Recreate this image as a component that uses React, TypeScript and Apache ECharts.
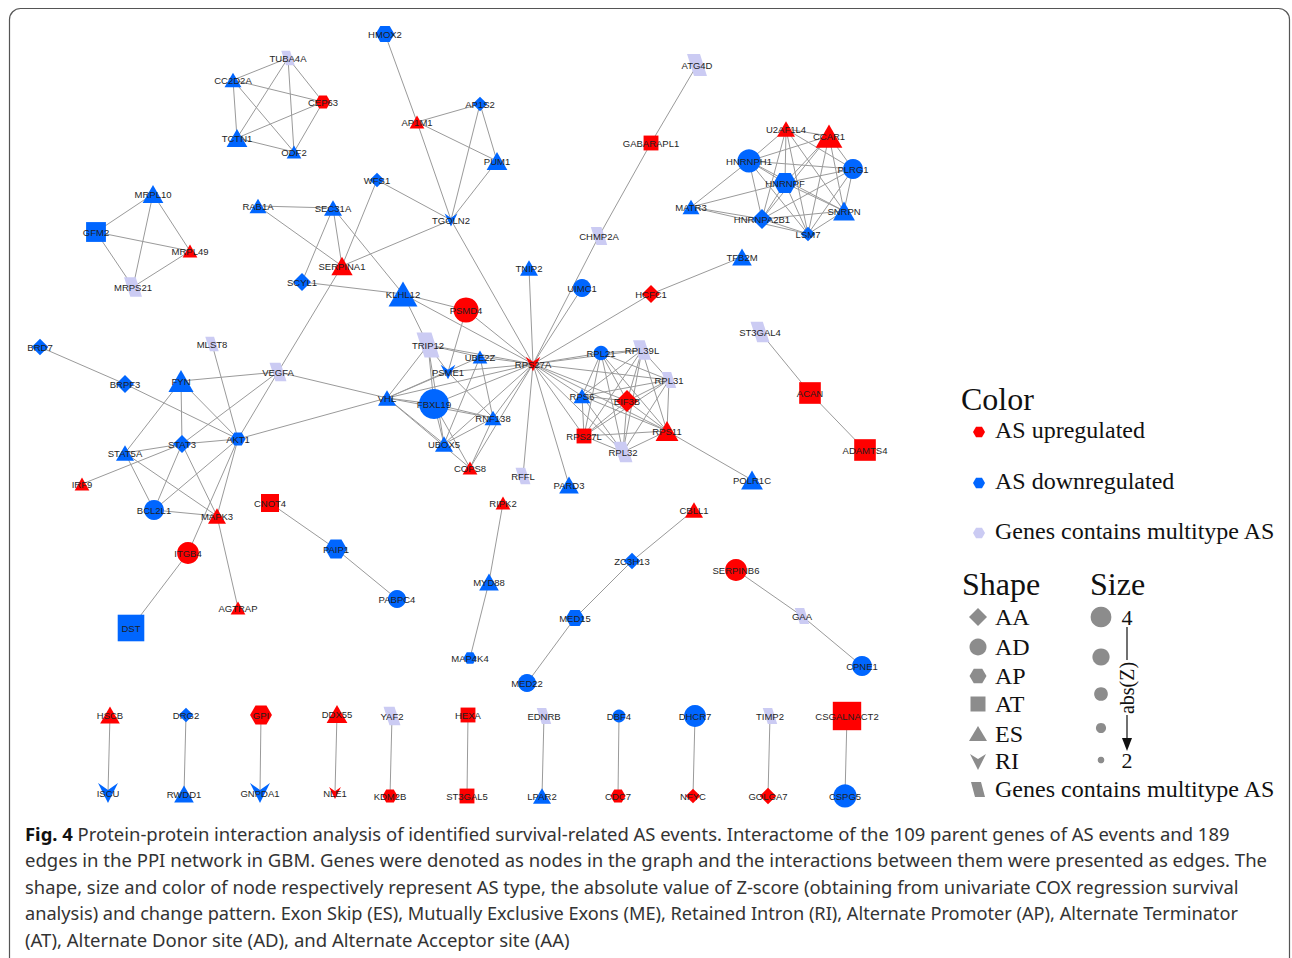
import { useEffect, useRef } from "react";
import * as echarts from "echarts";

// [gene, layoutX, layoutY, AS type, change pattern, abs(Z)]
type Gene = [string, number, number, string, string, number];

const genes: Gene[] = [
  ["TUBA4A", 288, 58, "ME", "multi", 2.4],
  ["CC2D2A", 233, 80, "ES", "down", 2.6],
  ["CEP63", 323, 102, "AP", "up", 2.5],
  ["TCTN1", 237, 138, "ES", "down", 2.95],
  ["ODF2", 294, 152, "ES", "down", 2.4],
  ["MRPL10", 153, 194, "ES", "down", 2.95],
  ["GFM2", 96, 232, "AT", "down", 3.25],
  ["MRPL49", 190, 251, "ES", "up", 2.4],
  ["MRPS21", 133, 287, "ME", "multi", 2.85],
  ["RAB1A", 258, 206, "ES", "down", 2.6],
  ["SEC31A", 333, 208, "ES", "down", 2.7],
  ["SERPINA1", 342, 266, "ES", "up", 3.0],
  ["SCYL1", 302, 282, "AA", "down", 2.95],
  ["HMOX2", 385, 34, "AP", "down", 2.85],
  ["AP1M1", 417, 122, "ES", "up", 2.4],
  ["AP1S2", 480, 104, "AA", "down", 2.6],
  ["PUM1", 497, 161, "ES", "down", 2.95],
  ["WFS1", 377, 180, "AA", "down", 2.6],
  ["TGOLN2", 451, 220, "RI", "down", 2.4],
  ["CHMP2A", 599, 236, "ME", "multi", 2.7],
  ["GABARAPL1", 651, 143, "AT", "up", 2.7],
  ["ATG4D", 697, 65, "ME", "multi", 3.05],
  ["TNIP2", 529, 268, "ES", "down", 2.7],
  ["UIMC1", 582, 288, "AD", "down", 2.95],
  ["KLHL12", 403, 294, "ES", "down", 3.7],
  ["PSMD4", 466, 310, "AD", "up", 3.7],
  ["U2AF1L4", 786, 129, "ES", "up", 2.7],
  ["CCAR1", 829, 136, "ES", "up", 3.5],
  ["HNRNPH1", 749, 161, "AD", "down", 3.5],
  ["PLRG1", 853, 169, "AD", "down", 3.15],
  ["HNRNPF", 785, 183, "AP", "down", 3.25],
  ["MATR3", 691, 207, "ES", "down", 2.6],
  ["HNRNPA2B1", 762, 219, "AA", "down", 3.15],
  ["SNRPN", 844, 211, "ES", "down", 3.05],
  ["LSM7", 808, 234, "AA", "down", 2.6],
  ["TFB2M", 742, 257, "ES", "down", 2.85],
  ["HCFC1", 651, 294, "AA", "up", 2.95],
  ["BRD7", 40, 347, "AA", "down", 2.8],
  ["MLST8", 212, 344, "ME", "multi", 2.4],
  ["VEGFA", 278, 372, "ME", "multi", 2.75],
  ["BRPF3", 125, 384, "AA", "down", 2.95],
  ["FYN", 181, 381, "ES", "down", 3.35],
  ["STAT5A", 125, 453, "ES", "down", 2.7],
  ["STAT3", 182, 444, "AA", "down", 2.95],
  ["AKT1", 238, 439, "AP", "down", 2.5],
  ["IRF9", 82, 484, "ES", "up", 2.4],
  ["BCL2L1", 154, 510, "AD", "down", 3.15],
  ["MAPK3", 217, 516, "ES", "up", 2.7],
  ["CNOT4", 270, 503, "AT", "up", 3.05],
  ["ITGB4", 188, 553, "AD", "up", 3.35],
  ["PAIP1", 336, 549, "AP", "down", 3.15],
  ["AGTRAP", 238, 608, "ES", "up", 2.4],
  ["DST", 131, 628, "AT", "down", 4.0],
  ["PABPC4", 397, 599, "AD", "down", 2.95],
  ["TRIP12", 428, 345, "ME", "multi", 3.35],
  ["UBE2Z", 480, 357, "ES", "down", 2.4],
  ["PSME1", 448, 372, "RI", "down", 2.6],
  ["RPS27A", 533, 364, "RI", "up", 2.6],
  ["VHL", 387, 398, "ES", "down", 2.7],
  ["FBXL19", 434, 404, "AD", "down", 4.2],
  ["RNF138", 493, 418, "ES", "down", 2.6],
  ["UBOX5", 444, 444, "ES", "down", 2.7],
  ["COPS8", 470, 468, "ES", "up", 2.4],
  ["RFFL", 523, 476, "ME", "multi", 2.55],
  ["PARD3", 569, 485, "ES", "down", 2.85],
  ["RPL21", 601, 353, "AD", "down", 2.6],
  ["RPL39L", 642, 350, "ME", "multi", 2.85],
  ["RPL31", 669, 380, "ME", "multi", 2.5],
  ["RPS6", 582, 396, "ES", "down", 2.6],
  ["EIF3B", 627, 401, "AA", "up", 3.35],
  ["RPS27L", 584, 436, "AT", "up", 2.7],
  ["RPS11", 667, 431, "ES", "up", 3.15],
  ["RPL32", 623, 452, "ME", "multi", 2.95],
  ["POLR1C", 752, 480, "ES", "down", 3.05],
  ["ST3GAL4", 760, 332, "ME", "multi", 2.95],
  ["ACAN", 810, 393, "AT", "up", 3.45],
  ["ADAMTS4", 865, 450, "AT", "up", 3.45],
  ["CBLL1", 694, 510, "ES", "up", 2.7],
  ["RIPK2", 503, 503, "ES", "up", 2.4],
  ["MYD88", 489, 582, "ES", "down", 2.85],
  ["MAP4K4", 470, 658, "AP", "down", 2.3],
  ["ZC3H13", 632, 561, "AA", "down", 2.8],
  ["MED15", 575, 618, "AP", "down", 2.85],
  ["MED22", 527, 683, "AD", "down", 2.95],
  ["SERPINB6", 736, 570, "AD", "up", 3.35],
  ["GAA", 802, 616, "ME", "multi", 2.5],
  ["CPNE1", 862, 666, "AD", "down", 3.15],
  ["HSCB", 110, 715, "ES", "up", 2.85],
  ["ISCU", 108, 793, "RI", "down", 3.15],
  ["DRG2", 186, 715, "AA", "down", 2.6],
  ["RWDD1", 184, 794, "ES", "down", 2.85],
  ["GPI", 261, 715, "AP", "up", 3.15],
  ["GNPDA1", 260, 793, "RI", "down", 3.15],
  ["DDX55", 337, 714, "ES", "up", 2.95],
  ["NLE1", 335, 793, "RI", "up", 2.3],
  ["YAF2", 392, 716, "ME", "multi", 2.75],
  ["KDM2B", 390, 796, "AP", "up", 2.5],
  ["HEXA", 468, 715, "AT", "up", 2.7],
  ["ST3GAL5", 467, 796, "AT", "up", 2.7],
  ["EDNRB", 544, 716, "ME", "multi", 2.5],
  ["LPAR2", 542, 796, "ES", "down", 2.7],
  ["DBF4", 619, 716, "AD", "down", 2.4],
  ["CDC7", 618, 796, "AP", "up", 2.5],
  ["DHCR7", 695, 716, "AD", "down", 3.35],
  ["NFYC", 693, 796, "AA", "up", 2.6],
  ["TIMP2", 770, 716, "ME", "multi", 2.5],
  ["GOLGA7", 768, 796, "AA", "up", 2.8],
  ["CSGALNACT2", 847, 716, "AT", "up", 4.2],
  ["CSPG5", 845, 796, "AD", "down", 3.5],
];

// fully connected modules
const cliques: string[][] = [
  ["TUBA4A", "CC2D2A", "CEP63", "TCTN1", "ODF2"],
  ["MRPL10", "GFM2", "MRPL49", "MRPS21"],
  ["U2AF1L4", "CCAR1", "HNRNPH1", "PLRG1", "HNRNPF", "HNRNPA2B1", "SNRPN", "LSM7"],
  ["RPL21", "RPL39L", "RPL31", "RPS6", "EIF3B", "RPS27L", "RPS11", "RPL32"],
];

const hubGene = "RPS27A";
const hubPartners = [
  "TGOLN2", "KLHL12", "PSMD4", "TNIP2", "UIMC1", "CHMP2A", "HCFC1", "TRIP12", "UBE2Z",
  "PSME1", "VHL", "FBXL19", "RNF138", "UBOX5", "COPS8", "RFFL", "PARD3", "RPL21",
  "RPL39L", "RPL31", "RPS6", "EIF3B", "RPS27L", "RPS11", "RPL32",
];

const interactions: [string, string][] = [
  ["HMOX2", "AP1M1"], ["AP1M1", "AP1S2"], ["AP1M1", "PUM1"], ["AP1M1", "TGOLN2"],
  ["AP1S2", "PUM1"], ["AP1S2", "TGOLN2"], ["PUM1", "TGOLN2"], ["WFS1", "TGOLN2"],
  ["WFS1", "SERPINA1"], ["TGOLN2", "SERPINA1"], ["RAB1A", "SEC31A"], ["RAB1A", "SERPINA1"],
  ["SEC31A", "SERPINA1"], ["SEC31A", "SCYL1"], ["SEC31A", "KLHL12"], ["SCYL1", "KLHL12"],
  ["SERPINA1", "VEGFA"], ["ATG4D", "GABARAPL1"], ["GABARAPL1", "CHMP2A"],
  ["MATR3", "HNRNPH1"], ["MATR3", "HNRNPF"], ["MATR3", "HNRNPA2B1"], ["MATR3", "LSM7"],
  ["TFB2M", "HCFC1"],
  ["BRD7", "BRPF3"], ["BRPF3", "AKT1"], ["MLST8", "AKT1"], ["VEGFA", "FYN"], ["VEGFA", "AKT1"],
  ["VEGFA", "STAT3"], ["VEGFA", "VHL"], ["AKT1", "VHL"], ["FYN", "STAT3"], ["FYN", "STAT5A"],
  ["FYN", "AKT1"], ["STAT5A", "STAT3"], ["STAT5A", "BCL2L1"], ["STAT5A", "MAPK3"],
  ["STAT3", "AKT1"], ["STAT3", "IRF9"], ["STAT3", "BCL2L1"], ["STAT3", "MAPK3"],
  ["AKT1", "BCL2L1"], ["AKT1", "MAPK3"], ["AKT1", "ITGB4"], ["BCL2L1", "MAPK3"],
  ["MAPK3", "AGTRAP"], ["ITGB4", "DST"], ["CNOT4", "PAIP1"], ["PAIP1", "PABPC4"],
  ["KLHL12", "PSMD4"], ["KLHL12", "TRIP12"],
  ["VHL", "TRIP12"], ["VHL", "PSME1"], ["VHL", "UBE2Z"], ["VHL", "FBXL19"], ["VHL", "UBOX5"],
  ["VHL", "RNF138"], ["VHL", "COPS8"], ["FBXL19", "TRIP12"], ["FBXL19", "UBOX5"],
  ["FBXL19", "RNF138"], ["FBXL19", "COPS8"], ["TRIP12", "UBE2Z"], ["TRIP12", "UBOX5"],
  ["TRIP12", "PSME1"], ["PSMD4", "PSME1"], ["PSME1", "RNF138"], ["UBE2Z", "UBOX5"],
  ["UBE2Z", "RNF138"], ["UBOX5", "RNF138"], ["RNF138", "COPS8"],
  ["RPS11", "POLR1C"], ["ST3GAL4", "ACAN"], ["ACAN", "ADAMTS4"], ["RIPK2", "MYD88"],
  ["MYD88", "MAP4K4"], ["CBLL1", "ZC3H13"], ["ZC3H13", "MED15"], ["MED15", "MED22"],
  ["SERPINB6", "GAA"], ["GAA", "CPNE1"],
  ["HSCB", "ISCU"], ["DRG2", "RWDD1"], ["GPI", "GNPDA1"], ["DDX55", "NLE1"], ["YAF2", "KDM2B"],
  ["HEXA", "ST3GAL5"], ["EDNRB", "LPAR2"], ["DBF4", "CDC7"], ["DHCR7", "NFYC"],
  ["TIMP2", "GOLGA7"], ["CSGALNACT2", "CSPG5"],
];

const colorLegend = ["AS upregulated", "AS downregulated", "Genes contains multitype AS"];
const shapeLegend = ["AA", "AD", "AP", "AT", "ES", "RI", "Genes contains multitype AS"];
const sizeLegendZ = [4, 3.5, 3, 2.5, 2];

const captionBold = "Fig. 4";
const captionLines = [
  " Protein-protein interaction analysis of identified survival-related AS events. Interactome of the 109 parent genes of AS events and 189",
  "edges in the PPI network in GBM. Genes were denoted as nodes in the graph and the interactions between them were presented as edges. The",
  "shape, size and color of node respectively represent AS type, the absolute value of Z-score (obtaining from univariate COX regression survival",
  "analysis) and change pattern. Exon Skip (ES), Mutually Exclusive Exons (ME), Retained Intron (RI), Alternate Promoter (AP), Alternate Terminator",
  "(AT), Alternate Donor site (AD), and Alternate Acceptor site (AA)",
];

const COLORS: Record<string, string> = { up: "#FF0000", down: "#0066FF", multi: "#CBCBF3" };
const LEGEND_GRAY = "#8C8C8C";

const SYMBOLS: Record<string, string> = {
  AA: "diamond",
  AD: "circle",
  AP: "path://M0,8.66 L5,0 L15,0 L20,8.66 L15,17.32 L5,17.32 Z",
  AT: "rect",
  ES: "triangle",
  RI: "path://M0,0 L10,7 L20,0 L10,20 Z",
  ME: "path://M0,0 L13,0 L20,20 L7,20 Z",
};

function baseSize(z: number) {
  return 9 + (z - 2) * 9.5;
}
function symbolSize(type: string, z: number): [number, number] {
  const s = baseSize(z);
  switch (type) {
    case "ES": return [s * 1.15, s];
    case "AP": return [s * 1.1, s * 0.95];
    case "AT": return [s * 0.95, s * 0.95];
    case "ME": return [s * 1.05, s * 1.15];
    default: return [s, s];
  }
}

function hexPoints(cx: number, cy: number, r: number) {
  const h = r * 0.866;
  return [[cx - r, cy], [cx - r / 2, cy - h], [cx + r / 2, cy - h], [cx + r, cy], [cx + r / 2, cy + h], [cx - r / 2, cy + h]];
}

function measure(text: string, font: string) {
  const c = document.createElement("canvas").getContext("2d");
  if (!c) return text.length * 9;
  c.font = font;
  return c.measureText(text).width;
}

export default function App() {
  const ref = useRef<HTMLDivElement>(null);

  useEffect(() => {
    document.body.style.margin = "0";
    if (!ref.current) return;
    const chart = echarts.init(ref.current, undefined, { renderer: "svg" });

    const nodes = genes.map(([name, x, y, type, reg, z]) => ({
      name,
      value: [x, y],
      symbol: SYMBOLS[type],
      symbolSize: symbolSize(type, z),
      itemStyle: { color: COLORS[reg] },
    }));

    const links: { source: string; target: string }[] = [];
    cliques.forEach((g) => {
      for (let i = 0; i < g.length; i++)
        for (let j = i + 1; j < g.length; j++) links.push({ source: g[i], target: g[j] });
    });
    hubPartners.forEach((p) => links.push({ source: hubGene, target: p }));
    interactions.forEach(([a, b]) => links.push({ source: a, target: b }));

    const serif = '"Liberation Serif", "Times New Roman", serif';
    const graphic: any[] = [];

    // frame
    graphic.push({
      type: "rect", silent: true, z: -10,
      shape: { x: 9.5, y: 8.5, width: 1280, height: 1000, r: 11 },
      style: { fill: "none", stroke: "#555", lineWidth: 1.2 },
    });

    // Color legend
    graphic.push({ type: "text", x: 961, y: 399, style: { text: "Color", font: `32px ${serif}`, fill: "#111", verticalAlign: "middle" } });
    const colorKeys = ["up", "down", "multi"];
    const colorY = [430, 481, 531];
    colorLegend.forEach((t, i) => {
      graphic.push({ type: "polygon", shape: { points: hexPoints(979, colorY[i] + 2, 6) }, style: { fill: COLORS[colorKeys[i]] } });
      graphic.push({ type: "text", x: 995, y: colorY[i], style: { text: t, font: `24px ${serif}`, fill: "#111", verticalAlign: "middle" } });
    });

    // Shape legend
    graphic.push({ type: "text", x: 962, y: 584, style: { text: "Shape", font: `32px ${serif}`, fill: "#111", verticalAlign: "middle" } });
    const shapeY = [617, 647, 676, 704, 734, 761, 789];
    const cx = 978;
    const g = { fill: LEGEND_GRAY };
    graphic.push({ type: "polygon", shape: { points: [[cx, shapeY[0] - 9], [cx + 9, shapeY[0]], [cx, shapeY[0] + 9], [cx - 9, shapeY[0]]] }, style: g });
    graphic.push({ type: "circle", shape: { cx, cy: shapeY[1], r: 8.5 }, style: g });
    graphic.push({ type: "polygon", shape: { points: hexPoints(cx, shapeY[2], 8.5) }, style: g });
    graphic.push({ type: "rect", shape: { x: cx - 7.5, y: shapeY[3] - 7.5, width: 15, height: 15 }, style: g });
    graphic.push({ type: "polygon", shape: { points: [[cx, shapeY[4] - 8], [cx + 9, shapeY[4] + 7], [cx - 9, shapeY[4] + 7]] }, style: g });
    graphic.push({ type: "polygon", shape: { points: [[cx - 8, shapeY[5] - 7], [cx, shapeY[5] - 2], [cx + 8, shapeY[5] - 7], [cx, shapeY[5] + 9]] }, style: g });
    graphic.push({ type: "polygon", shape: { points: [[cx - 7, shapeY[6] - 7], [cx + 3, shapeY[6] - 7], [cx + 7, shapeY[6] + 8], [cx - 3, shapeY[6] + 8]] }, style: g });
    shapeLegend.forEach((t, i) => {
      graphic.push({ type: "text", x: 995, y: shapeY[i], style: { text: t, font: `24px ${serif}`, fill: "#111", verticalAlign: "middle" } });
    });

    // Size legend
    graphic.push({ type: "text", x: 1090, y: 584, style: { text: "Size", font: `32px ${serif}`, fill: "#111", verticalAlign: "middle" } });
    const sizeY = [617, 657, 694, 728, 760];
    sizeLegendZ.forEach((z, i) => {
      graphic.push({ type: "circle", shape: { cx: 1101, cy: sizeY[i], r: baseSize(z) / 2.7 }, style: g });
    });
    graphic.push({ type: "text", x: 1127, y: 617, style: { text: "4", font: `22px ${serif}`, fill: "#111", align: "center", verticalAlign: "middle" } });
    graphic.push({ type: "text", x: 1127, y: 760, style: { text: "2", font: `22px ${serif}`, fill: "#111", align: "center", verticalAlign: "middle" } });
    graphic.push({ type: "line", shape: { x1: 1127, y1: 627, x2: 1127, y2: 660 }, style: { stroke: "#111", lineWidth: 1.2 } });
    graphic.push({ type: "line", shape: { x1: 1127, y1: 715, x2: 1127, y2: 742 }, style: { stroke: "#111", lineWidth: 1.2 } });
    graphic.push({ type: "polygon", shape: { points: [[1122, 738], [1132, 738], [1127, 751]] }, style: { fill: "#111" } });
    graphic.push({
      type: "text", x: 1127, y: 688, rotation: Math.PI / 2,
      style: { text: "abs(Z)", font: `20px ${serif}`, fill: "#111", align: "center", verticalAlign: "middle" },
    });

    // Caption
    const capFamily = '"Noto Sans", sans-serif';
    const capSize = 18;
    const capY = [834, 860, 887, 913, 940];
    const capEnd = [1230, 1268, 1239, 1239, 570];
    captionLines.forEach((line, i) => {
      const normalW = measure(line, `${capSize}px ${capFamily}`);
      const boldW = i === 0 ? measure(captionBold, `bold ${capSize}px ${capFamily}`) : 0;
      const target = capEnd[i] - 25;
      const sx = target / (normalW + boldW);
      graphic.push({
        type: "text", x: 25, y: capY[i], scaleX: sx,
        style: {
          text: i === 0 ? `{b|${captionBold}}${line}` : line,
          fontFamily: capFamily, fontSize: capSize, fill: "#333", verticalAlign: "middle",
          rich: { b: { fontFamily: capFamily, fontSize: capSize, fontWeight: "bold", fill: "#111" } },
        },
      });
    });

    chart.setOption({
      animation: false,
      grid: { left: 0, right: 0, top: 0, bottom: 0 },
      xAxis: { type: "value", min: 0, max: 1292, show: false },
      yAxis: { type: "value", min: 0, max: 958, inverse: true, show: false },
      series: [
        {
          type: "graph",
          coordinateSystem: "cartesian2d",
          data: nodes,
          links,
          silent: true,
          lineStyle: { color: "#9a9a9a", width: 1, opacity: 1, curveness: 0 },
          label: {
            show: true, position: "inside", fontSize: 9.5, fontFamily: '"Liberation Sans", Arial, sans-serif',
            color: "#1e1e1e",
          },
          emphasis: { disabled: true },
        },
      ],
      graphic,
    });

    return () => chart.dispose();
  }, []);

  return <div ref={ref} style={{ width: 1292, height: 958 }} />;
}
